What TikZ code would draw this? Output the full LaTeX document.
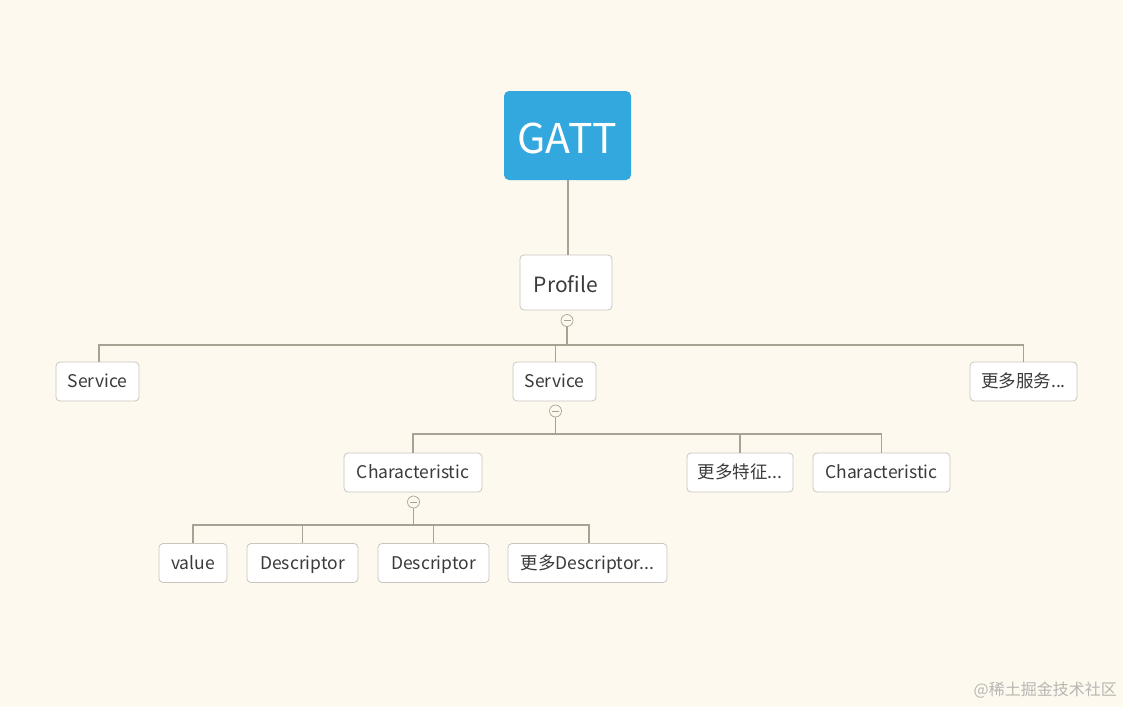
\documentclass[tikz,border=0pt]{standalone}
\usepackage{fontspec}
\setmainfont{Noto Sans CJK SC}
\begin{document}
\begin{tikzpicture}[x=1pt,y=-1pt,
  topic/.style={draw=boxline,fill=white,rounded corners=4pt,line width=0.8pt,inner sep=0pt,
     minimum height=39pt,font=\fontsize{17.5}{20}\selectfont,text=txt,text height=13pt,text depth=0.5pt},
  root/.style={fill=gattblue,rounded corners=5pt,inner sep=0pt,minimum width=127pt,minimum height=89pt,
     text=white,font=\fontsize{41}{46}\selectfont,text height=37pt,text depth=1pt},
  fold/.style={circle,draw=foldc,fill=bgc,line width=0.7pt,minimum size=12pt,inner sep=0pt,
     path picture={\draw[foldc,line width=0.7pt] ([xshift=-3.5pt]path picture bounding box.center) -- ([xshift=3.5pt]path picture bounding box.center);}},
  link/.style={draw=linec,line width=1.3pt}
]
\definecolor{bgc}{HTML}{FEF9EF}
\definecolor{gattblue}{HTML}{33A8DE}
\definecolor{boxline}{HTML}{C9C6C0}
\definecolor{linec}{HTML}{A8A294}
\definecolor{foldc}{HTML}{A8A294}
\definecolor{txt}{HTML}{3A3A3A}
\definecolor{wm}{HTML}{B8B6B2}
\fill[bgc] (0,0) rectangle (1123,707);
\useasboundingbox (0,0) rectangle (1123,707);

\node[root] (gatt) at (567.5,135.5) {GATT};
\node[topic,minimum width=92pt,minimum height=55pt,font=\fontsize{21}{24}\selectfont,text height=20pt,text depth=1pt] (profile) at (566,282.5) {Profile};
\node[fold] (f1) at (567,320.5) {};

\node[topic,minimum width=83pt] (s1) at (97.5,381.5) {Service};
\node[topic,minimum width=83pt] (s2) at (554.5,381.5) {Service};
\node[topic,minimum width=107pt] (smore) at (1023.5,381.5) {更多服务...};
\node[fold] (f2) at (555.5,411) {};

\node[topic,minimum width=138pt] (c1) at (413,472.5) {Characteristic};
\node[topic,minimum width=106pt] (cmore) at (740,472.5) {更多特征...};
\node[topic,minimum width=137pt] (c2) at (881.5,472.5) {Characteristic};
\node[fold] (f3) at (413.5,502) {};

\node[topic,minimum width=68pt] (v) at (193,563) {value};
\node[topic,minimum width=111pt] (d1) at (302.5,563) {Descriptor};
\node[topic,minimum width=111pt] (d2) at (433.5,563) {Descriptor};
\node[topic,minimum width=159pt] (dmore) at (587.5,563) {更多Descriptor...};

\draw[link,line width=2pt] (gatt.south) -- (gatt.south |- profile.north);
\coordinate (b1) at (567,345);
\draw[link] (f1.south) -- (b1);
\draw[link] (b1) -| ([xshift=1.5pt]s1.north);
\draw[link] (b1) -| ([xshift=1pt]s2.north);
\draw[link] (b1) -| (smore.north);

\coordinate (b2) at (555.5,434);
\draw[link] (f2.south) -- (b2);
\draw[link] (b2) -| (c1.north);
\draw[link] (b2) -| (cmore.north);
\draw[link] (b2) -| (c2.north);

\coordinate (b3) at (413.5,525);
\draw[link] (f3.south) -- (b3);
\draw[link] (b3) -| (v.north);
\draw[link] (b3) -| (d1.north);
\draw[link] (b3) -| (d2.north);
\draw[link] (b3) -| ([xshift=1.5pt]dmore.north);

\node[anchor=east,text=wm,font=\fontsize{16}{18}\selectfont,inner sep=0pt] (wmk) at (1117,690) {@稀土掘金技术社区};
\end{tikzpicture}
\end{document}
